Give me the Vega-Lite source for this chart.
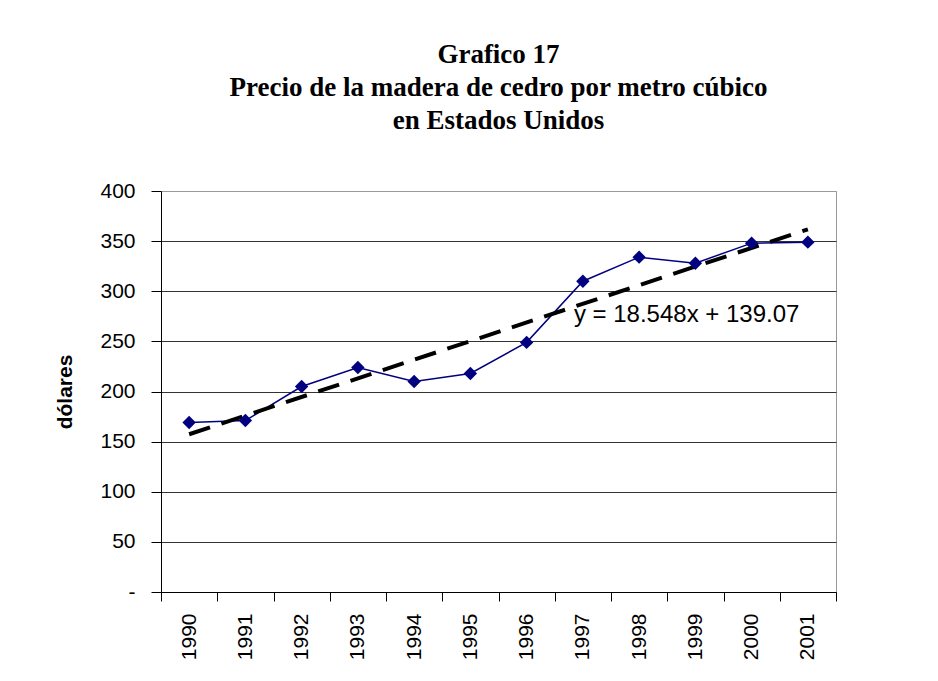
{
  "$schema": "https://vega.github.io/schema/vega-lite/v6.json",
  "width": 675,
  "height": 401,
  "autosize": "none",
  "padding": {"left": 161, "top": 191, "right": 102, "bottom": 89},
  "background": "white",
  "title": {
    "text": ["Grafico 17", "Precio de la madera de cedro por metro cúbico", "en Estados Unidos"],
    "font": "Liberation Serif",
    "fontSize": 27,
    "fontWeight": "bold",
    "lineHeight": 33,
    "anchor": "middle",
    "offset": 45,
    "color": "black"
  },
  "data": {
    "values": [
      {"year": 1990, "price": 169},
      {"year": 1991, "price": 171},
      {"year": 1992, "price": 205},
      {"year": 1993, "price": 224},
      {"year": 1994, "price": 210},
      {"year": 1995, "price": 218},
      {"year": 1996, "price": 249},
      {"year": 1997, "price": 310},
      {"year": 1998, "price": 334},
      {"year": 1999, "price": 328},
      {"year": 2000, "price": 348},
      {"year": 2001, "price": 349}
    ]
  },
  "encoding": {
    "x": {
      "field": "year",
      "type": "ordinal",
      "scale": {"type": "band", "paddingInner": 0, "paddingOuter": 0},
      "axis": {
        "title": null,
        "labelAngle": 270,
        "labelAlign": "right",
        "labelBaseline": "middle",
        "labelPadding": 12,
        "tickSize": 9,
        "tickBand": "extent",
        "domainColor": "black",
        "tickColor": "black",
        "grid": false
      }
    },
    "y": {
      "field": "price",
      "type": "quantitative",
      "scale": {"domain": [0, 400], "nice": false, "zero": true},
      "axis": {
        "title": "dólares",
        "titleX": -96,
        "titleBaseline": "middle",
        "titleFont": "Liberation Sans",
        "titleFontSize": 21,
        "titleFontWeight": "bold",
        "titleColor": "black",
        "values": [0, 50, 100, 150, 200, 250, 300, 350, 400],
        "labelExpr": "datum.value == 0 ? '-' : datum.label",
        "labelPadding": 16,
        "tickSize": 10,
        "domainColor": "black",
        "tickColor": "black",
        "grid": true,
        "gridColor": {"condition": {"test": "datum.value === 400", "value": "#999999"}, "value": "#333333"},
        "gridOpacity": 1,
        "gridWidth": 1
      }
    }
  },
  "layer": [
    {
      "mark": {"type": "line", "color": "#000080", "strokeWidth": 1.5}
    },
    {
      "transform": [{"regression": "price", "on": "year"}],
      "mark": {"type": "line", "color": "black", "strokeWidth": 4, "strokeDash": [22, 12]}
    },
    {
      "mark": {"type": "point", "shape": "diamond", "filled": true, "color": "#000080", "size": 180, "opacity": 1}
    },
    {
      "transform": [{"filter": "datum.year == 1997"}],
      "mark": {
        "type": "text",
        "text": "y = 18.548x + 139.07",
        "font": "Liberation Sans",
        "fontSize": 24,
        "color": "black",
        "align": "left",
        "baseline": "alphabetic",
        "dx": -9
      },
      "encoding": {
        "y": {"datum": 269, "type": "quantitative"}
      }
    }
  ],
  "config": {
    "axis": {
      "labelFont": "Liberation Sans",
      "labelFontSize": 21,
      "labelColor": "black",
      "domainWidth": 1,
      "tickWidth": 1
    },
    "view": {"stroke": "#999999", "strokeWidth": 1}
  }
}
